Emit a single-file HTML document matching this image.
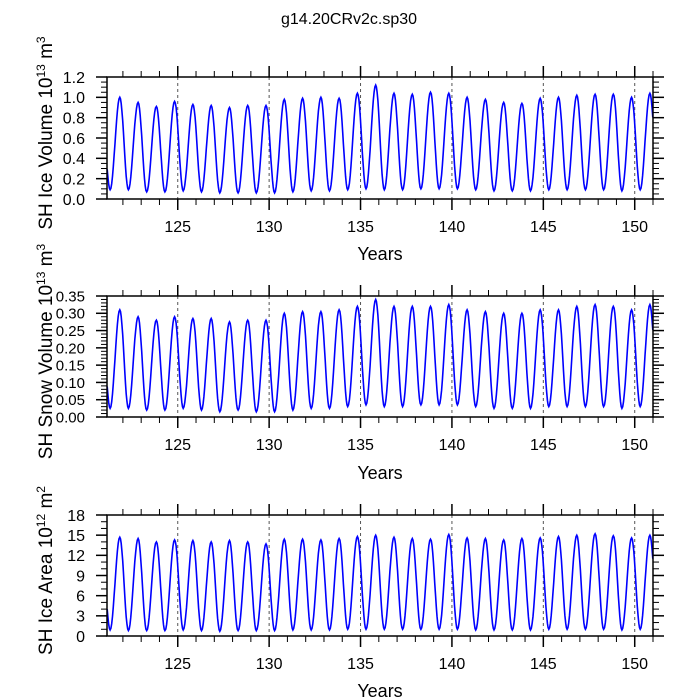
<!DOCTYPE html>
<html><head><meta charset="utf-8"><style>
body{margin:0;background:#fff;}
svg{display:block;font-family:"Liberation Sans",Arial,sans-serif;}
</style></head><body>
<svg id="chart" width="699" height="698" viewBox="0 0 699 698">
<text x="349" y="24" font-size="16" text-anchor="middle">g14.20CRv2c.sp30</text>
</svg>
<script>
const years = [121,122,123,124,125,126,127,128,129,130,131,132,133,134,135,136,137,138,139,140,141,142,143,144,145,146,147,148,149,150];
const icePeaks = [1.0,0.95,0.91,0.96,0.93,0.92,0.90,0.92,0.92,0.98,0.99,1.0,0.99,1.04,1.12,1.04,1.03,1.05,1.04,1.0,0.98,0.95,0.94,0.99,1.0,1.02,1.03,1.03,1.0,1.04];
const iceTroughs = [0.09,0.09,0.07,0.07,0.08,0.07,0.06,0.06,0.06,0.06,0.07,0.08,0.08,0.09,0.10,0.09,0.09,0.10,0.10,0.10,0.09,0.08,0.08,0.08,0.09,0.09,0.09,0.09,0.08,0.09];
const snowPeaks = [0.31,0.29,0.28,0.29,0.285,0.285,0.275,0.28,0.28,0.30,0.305,0.305,0.31,0.32,0.34,0.32,0.32,0.32,0.325,0.31,0.305,0.30,0.30,0.31,0.31,0.32,0.325,0.32,0.31,0.325];
const snowTroughs = [0.025,0.025,0.02,0.02,0.025,0.02,0.015,0.02,0.015,0.015,0.02,0.025,0.025,0.03,0.035,0.03,0.03,0.035,0.035,0.035,0.03,0.025,0.025,0.025,0.03,0.03,0.03,0.03,0.025,0.03];
const areaPeaks = [14.7,14.5,14.0,14.3,14.2,14.0,14.2,14.0,13.7,14.4,14.4,14.3,14.5,14.8,15.0,14.7,14.5,14.4,15.1,14.6,14.5,14.3,14.5,14.6,14.8,15.0,15.2,14.9,14.6,15.0];
const areaTroughs = [0.9,0.8,0.8,0.8,0.9,0.8,0.7,0.8,0.8,0.8,0.9,0.9,0.9,1.0,1.0,1.0,1.0,1.0,1.0,1.0,0.9,0.9,0.9,0.9,1.0,1.0,1.0,1.0,0.9,1.0];
const xTicks = [125,130,135,140,145,150];
const panels = [
 {name:'ice-volume', top:77, bottom:199, ymax:1.2, major:0.2, minor:0.05, dec:1, fs:16, peaks:icePeaks, troughs:iceTroughs, label:'SH Ice Volume 10', sup1:'13', unit:' m', sup2:'3', xlabY:260},
 {name:'snow-volume', top:296, bottom:417, ymax:0.35, major:0.05, minor:0.01, dec:2, fs:15, peaks:snowPeaks, troughs:snowTroughs, label:'SH Snow Volume 10', sup1:'13', unit:' m', sup2:'3', xlabY:479},
 {name:'ice-area', top:515, bottom:636, ymax:18, major:3, minor:1, dec:0, fs:16, peaks:areaPeaks, troughs:areaTroughs, label:'SH Ice Area 10', sup1:'12', unit:' m', sup2:'2', xlabY:697}
];
const NS='http://www.w3.org/2000/svg';
const svg=document.getElementById('chart');
const L=107,R=653,X0=121.13,X1=151.0;
const xs=v=>L+(v-X0)/(X1-X0)*(R-L);
function mk(t,a,p){const e=document.createElementNS(NS,t);for(const k in a)e.setAttribute(k,a[k]);(p||svg).appendChild(e);return e;}
panels.forEach(pn=>{
 const g=mk('g',{});
 
 
 const ys=v=>pn.bottom-v/pn.ymax*(pn.bottom-pn.top);
 xTicks.forEach(t=>{const l=mk('line',{x1:xs(t),x2:xs(t),y1:pn.top,y2:pn.bottom,stroke:'#555','stroke-width':1,'stroke-dasharray':'3,3'},g);
  
  });
 const pts=[];
 const n=years.length;
 const knots=[[years[0]-1+0.83,pn.peaks[0]*0.9]];
 for(let i=0;i<n;i++){knots.push([years[i]+0.3,pn.troughs[i]]);knots.push([years[i]+0.83,pn.peaks[i]]);}
 knots.push([years[n-1]+1.3,pn.troughs[n-1]]);
 for(let k=0;k<knots.length-1;k++){const [a,va]=knots[k],[b,vb]=knots[k+1];
  for(let s=0;s<12;s++){const f=s/12,x=a+(b-a)*f;const v=va+(vb-va)*(1-Math.cos(Math.PI*f))/2;
   if(x>=X0&&x<=X1)pts.push(xs(x).toFixed(1)+','+ys(v).toFixed(1));}}
 const pl=mk('polyline',{points:pts.join(' '),fill:'none',stroke:'#0000ff','stroke-width':1.6},g);
 
 
 const fr=mk('rect',{x:L,y:pn.top,width:R-L,height:pn.bottom-pn.top,fill:'none',stroke:'#000','stroke-width':1.5},g);
 
 
 for(let y=122;y<=151;y++){const maj=y%5===0;const len=maj?11:6;
  mk('line',{x1:xs(y),x2:xs(y),y1:pn.top,y2:pn.top-len,stroke:'#000','stroke-width':maj?1.5:1},g);
  mk('line',{x1:xs(y),x2:xs(y),y1:pn.bottom,y2:pn.bottom+len,stroke:'#000','stroke-width':maj?1.5:1},g);}
 xTicks.forEach(t=>{const tx=mk('text',{x:xs(t),y:pn.bottom+33,'font-size':16,'text-anchor':'middle'},g);tx.textContent=t;
  
  });
 const nm=Math.round(pn.ymax/pn.minor);
 for(let i=0;i<=nm;i++){const v=i*pn.minor;const maj=Math.abs(v/pn.major-Math.round(v/pn.major))<1e-6;const len=maj?11:6;
  mk('line',{x1:L,x2:L-len,y1:ys(v),y2:ys(v),stroke:'#000','stroke-width':maj?1.5:1},g);
  mk('line',{x1:R,x2:R+len,y1:ys(v),y2:ys(v),stroke:'#000','stroke-width':maj?1.5:1},g);
  if(maj){const tx=mk('text',{x:L-22,y:ys(v)+pn.fs*0.36,'font-size':pn.fs,'text-anchor':'end'},g);tx.textContent=v.toFixed(pn.dec);
   
   }}
 const xl=mk('text',{x:380,y:pn.xlabY,'font-size':18,'text-anchor':'middle'},g);xl.textContent='Years';
 
 
 const cy=(pn.top+pn.bottom)/2;
 const yl=mk('text',{x:0,y:0,'font-size':19,'text-anchor':'middle',transform:`translate(52,${cy-5}) rotate(-90)`},g);
 
 
 const t1=mk('tspan',{},yl);t1.textContent=pn.label;
 const t2=mk('tspan',{dy:-7,'font-size':12},yl);t2.textContent=pn.sup1;
 const t3=mk('tspan',{dy:7},yl);t3.textContent=pn.unit;
 const t4=mk('tspan',{dy:-7,'font-size':12},yl);t4.textContent=pn.sup2;
});
</script>
</body></html>
